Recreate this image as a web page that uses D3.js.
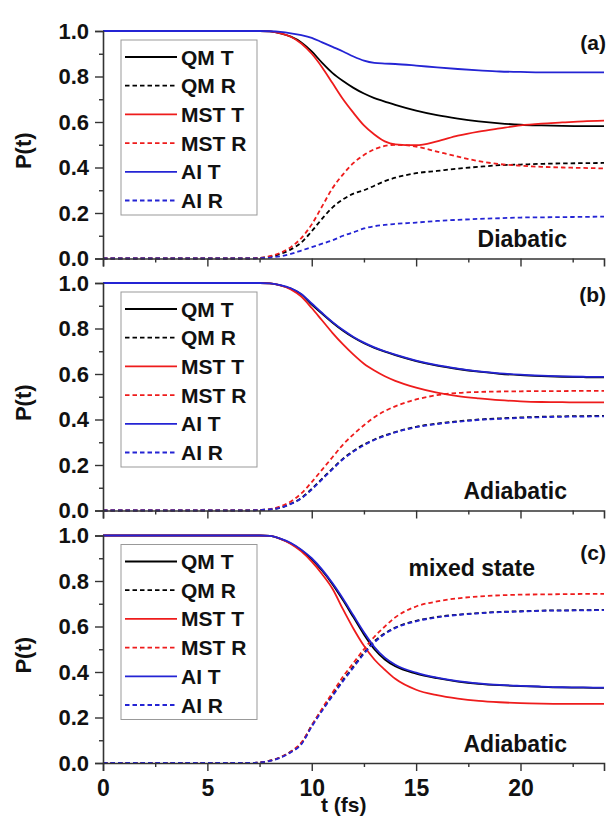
<!DOCTYPE html>
<html>
<head>
<meta charset="utf-8">
<script src="https://cdn.jsdelivr.net/npm/d3@7/dist/d3.min.js"></script>
<style>
body { margin: 0; background: #fff; }
text { font-family: "Liberation Sans", Arial, sans-serif; font-weight: bold; fill: #111; }
</style>
</head>
<body>
<svg id="chart" width="609" height="819"></svg>
<script>
// time grid (fs)
var times = [0, 7, 7.5, 8, 8.5, 9, 9.5, 10, 10.5, 11, 11.5, 12, 12.5, 13, 13.5, 14, 15, 16, 17, 18, 19, 20, 21, 22, 23, 24];

// (a) diabatic
var aQMT  = [1, 1, 1, 0.998, 0.99, 0.975, 0.95, 0.91, 0.86, 0.815, 0.78, 0.75, 0.725, 0.705, 0.69, 0.675, 0.65, 0.63, 0.615, 0.603, 0.594, 0.588, 0.585, 0.583, 0.582, 0.582];
var aQMR  = [0, 0, 0.002, 0.008, 0.02, 0.04, 0.07, 0.12, 0.175, 0.225, 0.26, 0.285, 0.3, 0.32, 0.34, 0.355, 0.375, 0.385, 0.395, 0.403, 0.41, 0.413, 0.416, 0.418, 0.419, 0.42];
var aMSTT = [1, 1, 1, 0.998, 0.99, 0.975, 0.945, 0.9, 0.84, 0.77, 0.7, 0.64, 0.585, 0.545, 0.515, 0.502, 0.498, 0.515, 0.54, 0.558, 0.572, 0.585, 0.593, 0.598, 0.603, 0.606];
var aMSTR = [0, 0, 0.002, 0.01, 0.025, 0.05, 0.09, 0.15, 0.23, 0.31, 0.37, 0.42, 0.455, 0.48, 0.495, 0.5, 0.492, 0.47, 0.448, 0.428, 0.415, 0.408, 0.403, 0.4, 0.398, 0.396];
var aAIT  = [1, 1, 1, 0.999, 0.996, 0.99, 0.982, 0.97, 0.95, 0.93, 0.91, 0.888, 0.87, 0.86, 0.857, 0.855, 0.848, 0.84, 0.833, 0.827, 0.822, 0.82, 0.818, 0.818, 0.818, 0.818];
var aAIR  = [0, 0, 0.001, 0.004, 0.01, 0.02, 0.035, 0.05, 0.065, 0.08, 0.1, 0.115, 0.132, 0.142, 0.148, 0.152, 0.158, 0.165, 0.17, 0.174, 0.177, 0.18, 0.181, 0.182, 0.183, 0.184];

// (b) adiabatic
var bQMT  = [1, 1, 1, 0.998, 0.99, 0.975, 0.95, 0.905, 0.865, 0.825, 0.79, 0.76, 0.735, 0.715, 0.698, 0.683, 0.657, 0.637, 0.622, 0.61, 0.601, 0.595, 0.591, 0.588, 0.586, 0.585];
var bQMR  = [0, 0, 0.002, 0.005, 0.012, 0.03, 0.055, 0.095, 0.14, 0.185, 0.228, 0.262, 0.29, 0.312, 0.33, 0.345, 0.368, 0.382, 0.392, 0.4, 0.405, 0.409, 0.412, 0.414, 0.415, 0.416];
var bMSTT = [1, 1, 1, 0.998, 0.99, 0.972, 0.94, 0.89, 0.835, 0.78, 0.73, 0.685, 0.645, 0.615, 0.59, 0.57, 0.54, 0.518, 0.503, 0.493, 0.485, 0.48, 0.477, 0.476, 0.475, 0.475];
var bMSTR = [0, 0, 0.002, 0.006, 0.018, 0.04, 0.075, 0.125, 0.18, 0.235, 0.29, 0.335, 0.375, 0.41, 0.437, 0.458, 0.488, 0.507, 0.517, 0.521, 0.523, 0.524, 0.525, 0.525, 0.526, 0.526];
var bAIT  = [1, 1, 1, 0.998, 0.991, 0.977, 0.952, 0.91, 0.868, 0.828, 0.793, 0.763, 0.738, 0.717, 0.7, 0.685, 0.659, 0.639, 0.624, 0.612, 0.603, 0.597, 0.593, 0.59, 0.588, 0.587];
var bAIR  = [0, 0, 0.002, 0.005, 0.012, 0.029, 0.053, 0.092, 0.137, 0.182, 0.225, 0.259, 0.287, 0.31, 0.328, 0.343, 0.366, 0.38, 0.39, 0.398, 0.403, 0.407, 0.41, 0.412, 0.413, 0.414];

// (c) adiabatic, mixed state
var cQMT  = [1, 1, 1, 0.998, 0.985, 0.965, 0.935, 0.895, 0.845, 0.785, 0.715, 0.64, 0.565, 0.5, 0.455, 0.425, 0.393, 0.373, 0.358, 0.348, 0.342, 0.338, 0.335, 0.332, 0.331, 0.33];
var cQMR  = [0, 0, 0.002, 0.01, 0.025, 0.05, 0.085, 0.165, 0.235, 0.3, 0.365, 0.425, 0.485, 0.535, 0.57, 0.595, 0.625, 0.642, 0.652, 0.659, 0.664, 0.667, 0.67, 0.671, 0.672, 0.673];
var cMSTT = [1, 1, 1, 0.998, 0.985, 0.963, 0.93, 0.885, 0.83, 0.765, 0.675, 0.59, 0.515, 0.455, 0.41, 0.37, 0.322, 0.298, 0.283, 0.273, 0.267, 0.263, 0.261, 0.26, 0.26, 0.26];
var cMSTR = [0, 0, 0.002, 0.01, 0.025, 0.05, 0.09, 0.165, 0.24, 0.31, 0.38, 0.44, 0.5, 0.555, 0.6, 0.64, 0.688, 0.71, 0.724, 0.732, 0.737, 0.74, 0.741, 0.742, 0.743, 0.743];
var cAIT  = [1, 1, 1, 0.998, 0.986, 0.967, 0.938, 0.9, 0.85, 0.79, 0.722, 0.648, 0.575, 0.51, 0.463, 0.432, 0.397, 0.375, 0.36, 0.35, 0.343, 0.339, 0.336, 0.333, 0.332, 0.331];
var cAIR  = [0, 0, 0.002, 0.009, 0.023, 0.047, 0.082, 0.16, 0.23, 0.295, 0.36, 0.42, 0.48, 0.53, 0.567, 0.593, 0.623, 0.64, 0.651, 0.658, 0.663, 0.666, 0.669, 0.67, 0.671, 0.672];

var seriesNames = ['QM T', 'QM R', 'MST T', 'MST R', 'AI T', 'AI R'];
var xTicks = [0, 5, 10, 15, 20];
var xMinor = [2.5, 7.5, 12.5, 17.5, 22.5];
var yTicks = [0, 0.2, 0.4, 0.6, 0.8, 1.0];
var yMinor = [0.1, 0.3, 0.5, 0.7, 0.9];

var colors = ['#000', '#000', '#ee1c1c', '#ee1c1c', '#2424d4', '#2424d4'];
var dashed = [false, true, false, true, false, true];

var panels = [
    {label: '(a)', top: 31, data: [aQMT, aQMR, aMSTT, aMSTR, aAIT, aAIR], notes: ['Diabatic'], labelDy: 19},
    {label: '(b)', top: 283, data: [bQMT, bQMR, bMSTT, bMSTR, bAIT, bAIR], notes: ['Adiabatic'], labelDy: 19},
    {label: '(c)', top: 535.5, data: [cQMT, cQMR, cMSTT, cMSTR, cAIT, cAIR], notes: ['Adiabatic', 'mixed state'], labelDy: 24}
];

var svg = d3.select('#chart');
var left = 103, right = 604, h = 227.5;

var x = d3.scaleLinear().domain([0, 24]).range([left, right]);

panels.forEach(function(p, pi) {
    var y = d3.scaleLinear().domain([0, 1]).range([p.top + h, p.top]);
    var g = svg.append('g');
    var last = pi == panels.length - 1;

    // curves
    var line = d3.line()
        .x(function(d, i) { return x(times[i]); })
        .y(function(d) { return y(d); })
        .curve(d3.curveMonotoneX);

    p.data.forEach(function(vals, si) {
        g.append('path')
            .attr('d', line(vals))
            .attr('fill', 'none')
            .attr('stroke', colors[si])
            .attr('stroke-width', 1.8)
            .attr('stroke-dasharray', dashed[si] ? '4.5,3' : null);
    });

    // axes
    var yAxis = g.append('g').attr('transform', 'translate(' + left + ',0)')
        .call(d3.axisLeft(y).tickValues(yTicks).tickSize(8).tickPadding(6).tickFormat(d3.format('.1f')));
    g.append('g').attr('transform', 'translate(' + left + ',0)')
        .call(d3.axisLeft(y).tickValues(yMinor).tickSize(4).tickFormat(''))
        .select('.domain').remove();

    var xAxis = g.append('g').attr('transform', 'translate(0,' + (p.top + h) + ')')
        .call(d3.axisBottom(x).tickValues(xTicks).tickSize(8).tickPadding(9)
            .tickFormat(last ? d3.format('d') : ''));
    g.append('g').attr('transform', 'translate(0,' + (p.top + h) + ')')
        .call(d3.axisBottom(x).tickValues(xMinor).tickSize(4).tickFormat(''))
        .select('.domain').remove();

    g.selectAll('.domain').attr('stroke', '#333').attr('stroke-width', 1.6);
    g.selectAll('.tick line').attr('stroke', '#333').attr('stroke-width', 1.4);
    yAxis.selectAll('text').style('font-size', '22px').attr('fill', '#111');
    xAxis.selectAll('text').style('font-size', '23px').attr('fill', '#111');

    // y label
    g.append('text')
        .attr('transform', 'translate(31,' + (p.top + h / 2 + 6) + ') rotate(-90)')
        .attr('text-anchor', 'middle')
        .style('font-size', '22px')
        .text('P(t)');

    // legend
    var lg = g.append('g');
    lg.append('rect')
        .attr('x', 121).attr('y', p.top + 9)
        .attr('width', 136).attr('height', 175)
        .attr('fill', 'none').attr('stroke', '#999').attr('stroke-width', 1);
    seriesNames.forEach(function(name, si) {
        var ly = p.top + 26 + si * 28.7;
        lg.append('line')
            .attr('x1', 125).attr('x2', 177).attr('y1', ly).attr('y2', ly)
            .attr('stroke', colors[si]).attr('stroke-width', 1.8)
            .attr('stroke-dasharray', dashed[si] ? '4.5,3' : null);
        lg.append('text')
            .attr('x', 181).attr('y', ly).attr('dy', '0.36em')
            .style('font-size', '21px')
            .text(name);
    });

    // annotations
    g.append('text')
        .attr('x', 606).attr('y', p.top + p.labelDy)
        .attr('text-anchor', 'end')
        .style('font-size', '21px')
        .text(p.label);
    g.append('text')
        .attr('x', 567).attr('y', p.top + 216)
        .attr('text-anchor', 'end')
        .style('font-size', '23px')
        .text(p.notes[0]);
    if (p.notes[1]) {
        g.append('text')
            .attr('x', 535).attr('y', p.top + 40)
            .attr('text-anchor', 'end')
            .style('font-size', '23px')
            .text(p.notes[1]);
    }
});

// x label
svg.append('text')
    .attr('x', 321).attr('y', 812)
    .style('font-size', '21px')
    .text('t (fs)');
</script>
</body>
</html>
